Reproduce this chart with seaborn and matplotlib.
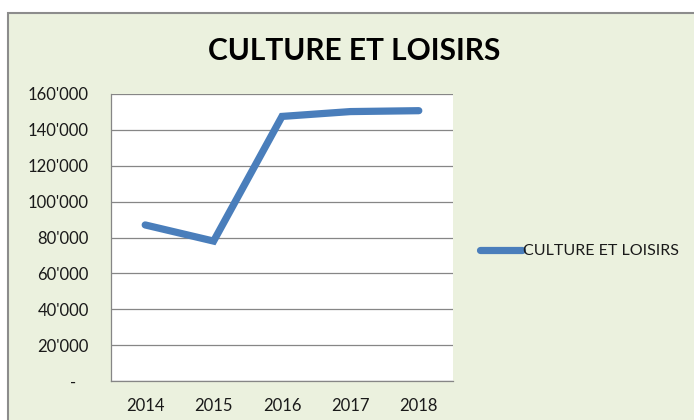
import matplotlib
matplotlib.use("Agg")
import matplotlib.pyplot as plt
import matplotlib.ticker as mticker
from matplotlib.patches import Rectangle
import seaborn as sns
import pandas as pd

# données
annees = ["2014", "2015", "2016", "2017", "2018"]
valeurs = [87000, 78000, 147500, 150200, 150700]
serie = "CULTURE ET LOISIRS"
yticks = [0, 20000, 40000, 60000, 80000, 100000, 120000, 140000, 160000]

df = pd.DataFrame({"annee": annees, "valeur": valeurs})

sns.set_style("white")
plt.rcParams["font.family"] = ["Lato", "DejaVu Sans"]
plt.rcParams["text.color"] = "#1a1a1a"
plt.rcParams["xtick.color"] = "#1a1a1a"
plt.rcParams["ytick.color"] = "#1a1a1a"

fig = plt.figure(figsize=(6.94, 4.20), dpi=100)
fig.patch.set_facecolor("white")
# cadre vert clair du graphique Excel
fig.patches.append(Rectangle((8 / 694, -0.1), 1.1, 1.1 - 13 / 420,
                             transform=fig.transFigure, facecolor="#EBF1DE",
                             edgecolor="#8C8C8C", linewidth=1.5, zorder=-10))

ax = fig.add_axes([111 / 694, 1 - 381 / 420, 342 / 694, 287 / 420])
ax.set_facecolor("white")

sns.lineplot(data=df, x="annee", y="valeur", ax=ax, color="#4A7EBB",
             linewidth=5.2, solid_capstyle="round", solid_joinstyle="miter",
             label=serie)

ax.set_xlim(-0.5, len(annees) - 0.5)
ax.set_ylim(0, 160000)
ax.set_yticks(yticks)
ax.yaxis.set_major_formatter(mticker.FuncFormatter(
    lambda v, p: "-   " if v == 0 else f"{int(v):,}".replace(",", "'")))
ax.grid(axis="y", color="#868686", linewidth=0.9)
ax.set_axisbelow(True)

ax.set_xticks(range(len(annees)))
ax.set_xticks([i - 0.5 for i in range(len(annees) + 1)], minor=True)
ax.tick_params(axis="x", which="major", length=0, labelsize=12, pad=12)
ax.tick_params(axis="x", which="minor", length=5, color="#868686", width=0.9)
ax.tick_params(axis="y", length=5, color="#868686", width=0.9, labelsize=12,
               pad=11, labelcolor="#1a1a1a")
ax.tick_params(axis="x", labelcolor="#1a1a1a")
ax.set_xlabel("")
ax.set_ylabel("")

for s in ["top", "right"]:
    ax.spines[s].set_visible(False)
for s in ["left", "bottom"]:
    ax.spines[s].set_color("#868686")
    ax.spines[s].set_linewidth(0.9)

fig.text(354 / 694, 1 - 50.5 / 420, serie, ha="center", va="center",
         fontsize=21.5, fontweight="bold", color="black")

ax.legend(loc="center left", bbox_to_anchor=(480 / 694, 1 - 251 / 420),
          bbox_transform=fig.transFigure, frameon=False, borderpad=0,
          borderaxespad=0, handlelength=2.6, handletextpad=0.1, fontsize=11.5)

fig.savefig("out.png", dpi=100)
